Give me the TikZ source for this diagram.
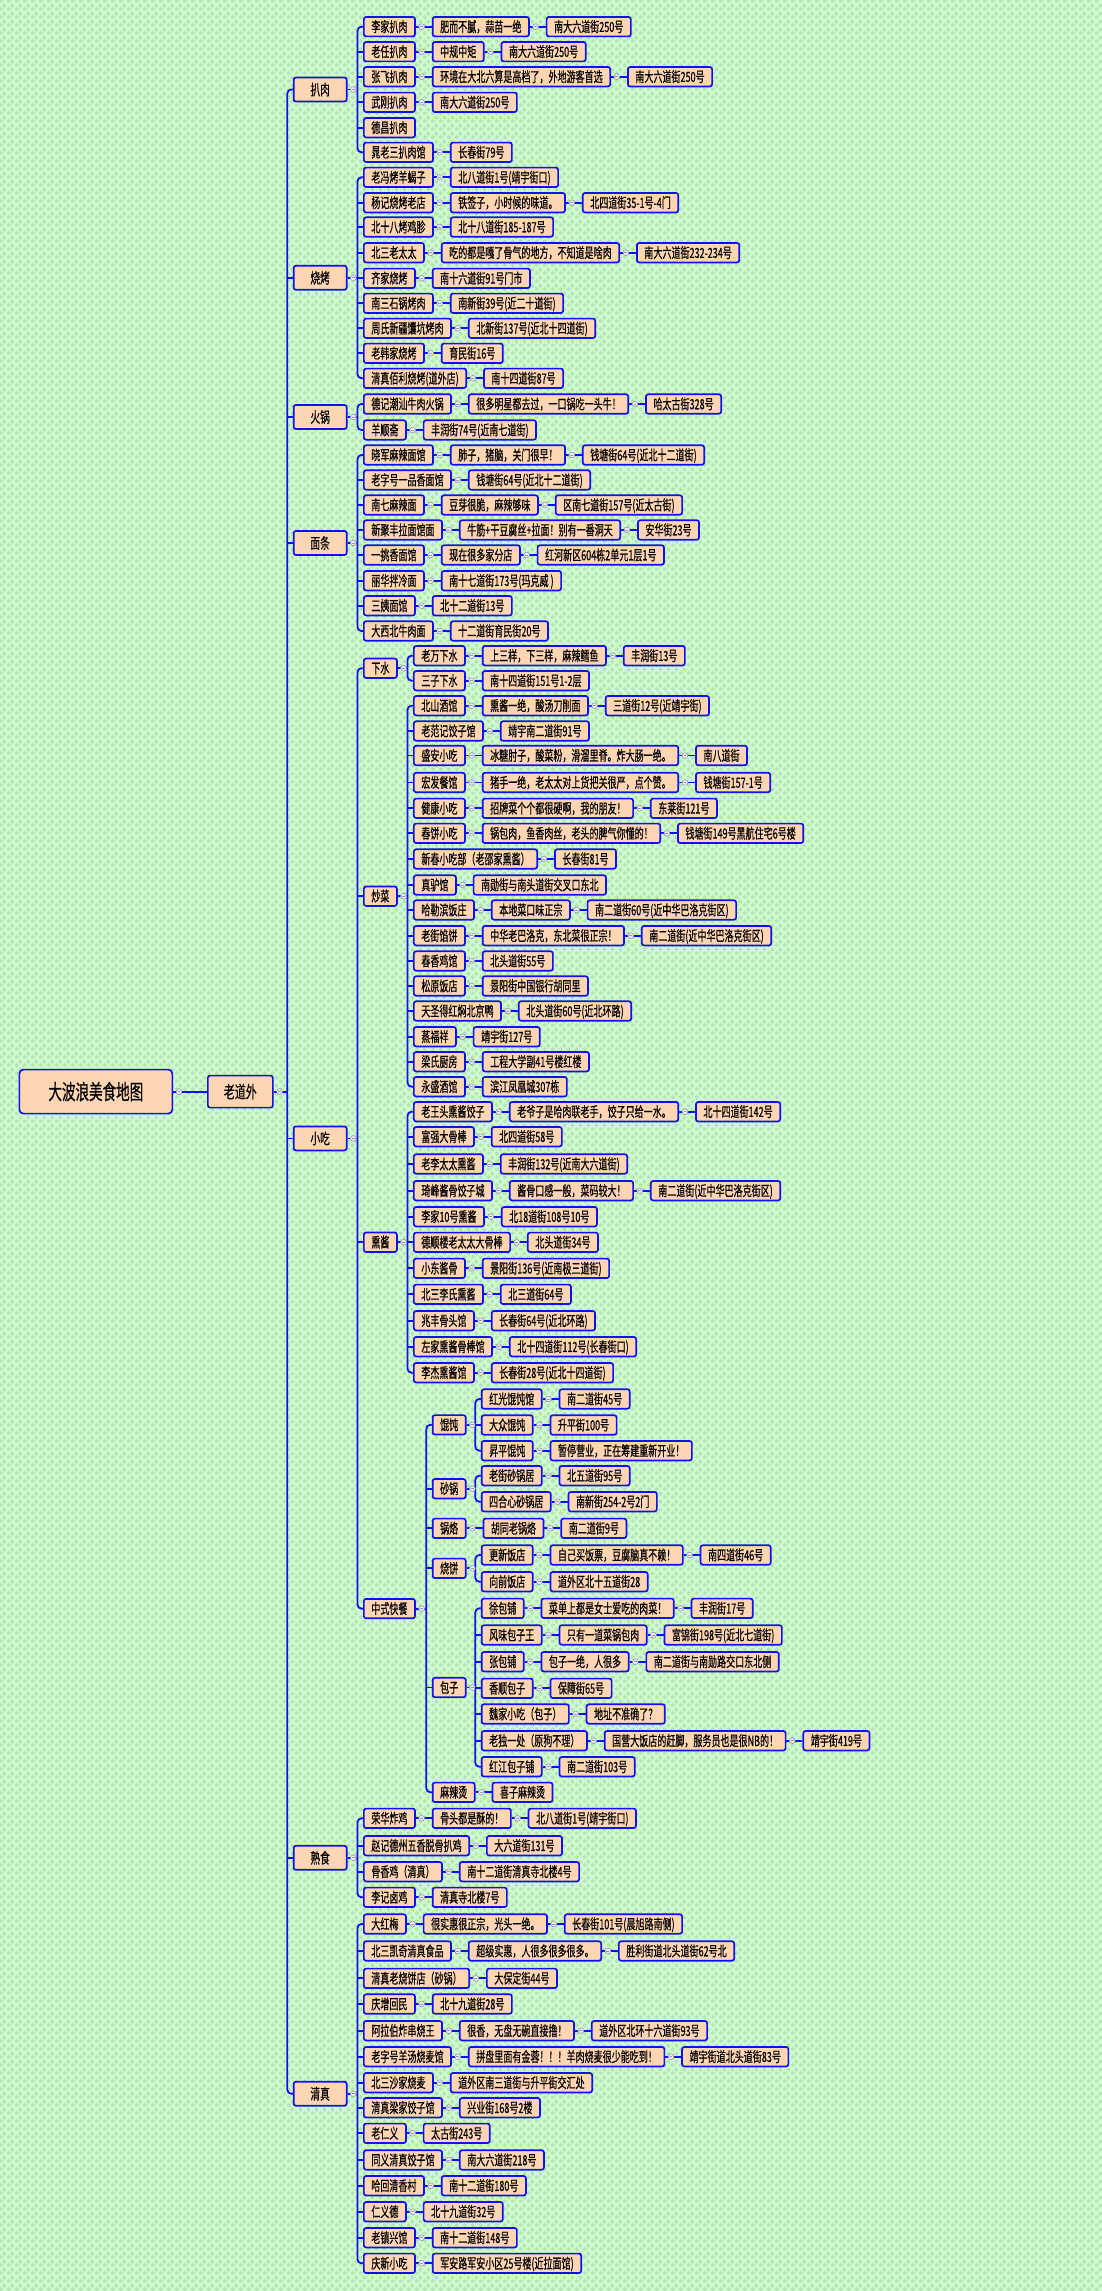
\documentclass[tikz,border=0pt]{standalone}
\usepackage{fontspec}
\setmainfont{Noto Sans CJK SC}[FakeStretch=0.645,FakeBold=0.5]
\usetikzlibrary{positioning,calc,patterns.meta}
\definecolor{mmblue}{RGB}{16,16,240}
\definecolor{mmpeach}{RGB}{255,214,180}
\definecolor{bggreen}{RGB}{206,250,206}
\definecolor{dotgreen}{RGB}{160,212,160}
\definecolor{btnfill}{RGB}{236,236,244}
\definecolor{btnedge}{RGB}{150,150,175}
\tikzdeclarepattern{name=bgdots, type=uncolored,
  bounding box={(0pt,0pt) and (8pt,8pt)}, tile size={(8pt,8pt)},
  code={\draw[line width=0.6pt] (2pt,2pt) circle (1.6pt) (6pt,6pt) circle (1.6pt);}}
\tikzset{
  leaf/.style={draw=mmblue, line width=1.7pt, fill=mmpeach, rounded corners=2.2pt,
    anchor=west, inner xsep=7.5pt, inner ysep=0pt, minimum height=19.4pt,
    text height=10.5pt, text depth=0pt, font=\fontsize{14pt}{14pt}\selectfont},
  lev2/.style={leaf, minimum width=53pt, minimum height=24pt,
    text height=11.4pt, font=\fontsize{15pt}{15pt}\selectfont},
  lev1/.style={leaf, minimum width=65pt, minimum height=32pt,
    text height=13pt, font=\fontsize{17pt}{17pt}\selectfont},
  rootnode/.style={leaf, minimum width=153pt, minimum height=44pt, rounded corners=4pt,
    text height=16pt, font=\fontsize{21pt}{21pt}\selectfont},
  conn/.style={draw=mmblue, line width=1.8pt},
}
\newcommand\mmbtn[1]{\filldraw[fill=btnfill,draw=btnedge,line width=0.6pt] ($(#1.east)+(5.8pt,0)$) circle (2.9pt);
  \draw[btnedge,line width=0.7pt] ($(#1.east)+(4.4pt,0)$) -- ++(2.8pt,0);}
\newcommand\mmL[4]{\node[leaf] (#1) at (#2,#3) {#4};}
\newcommand\mmnext[3]{\node[leaf,right=16pt of #1] (#2) {#3}; \draw[conn] (#1.east) -- (#2.west); \mmbtn{#1}}
\newcommand\mmtree[3]{\draw[conn,rounded corners=4pt] (#2.west) -- ++(-5.5pt,0) |- (#3.west);
  \draw[conn] (#1.east) -- ($(#1.east -| #2.west)+(-5.5pt,0)$); \mmbtn{#1}}
\newcommand\mmtick[1]{\draw[conn] (#1.west) -- ++(-5.5pt,0);}
\begin{document}
\begin{tikzpicture}[x=1pt,y=-1pt]
\useasboundingbox (0,0) rectangle (1102,2291);
\fill[bggreen] (0,0) rectangle (1102,2291);
\fill[pattern=bgdots,pattern color=dotgreen] (0,0) rectangle (1102,2291);

% root and level 1
\node[rootnode] (root) at (18.5,1091.6) {大波浪美食地图};
\node[lev1] (ldw) at (207,1091.6) {老道外};
\draw[conn] (root.east) -- (ldw.west); \mmbtn{root}

% level 2
\node[lev2] (bar) at (292.8,89.5) {扒肉};
\node[lev2] (sk) at (292.8,277.8) {烧烤};
\node[lev2] (hg) at (292.8,417) {火锅};
\node[lev2] (mt) at (292.8,543) {面条};
\node[lev2] (xc) at (292.8,1138.4) {小吃};
\node[lev2] (ss) at (292.8,1857.8) {熟食};
\node[lev2] (qz) at (292.8,2093.7) {清真};
\mmtree{ldw}{bar}{qz}
\foreach \n in {sk,hg,mt,xc,ss} {\mmtick{\n}}

% 扒肉
\mmL{a1}{363}{26.7}{李家扒肉} \mmnext{a1}{a1b}{肥而不腻，蒜苗一绝} \mmnext{a1b}{a1c}{南大六道街250号}
\mmL{a2}{363}{51.7}{老任扒肉} \mmnext{a2}{a2b}{中规中矩} \mmnext{a2b}{a2c}{南大六道街250号}
\mmL{a3}{363}{76.7}{张飞扒肉} \mmnext{a3}{a3b}{环境在大北六算是高档了，外地游客首选} \mmnext{a3b}{a3c}{南大六道街250号}
\mmL{a4}{363}{102.3}{武刚扒肉} \mmnext{a4}{a4b}{南大六道街250号}
\mmL{a5}{363}{127.7}{德昌扒肉}
\mmL{a6}{363}{152.3}{晁老三扒肉馆} \mmnext{a6}{a6b}{长春街79号}
\mmtree{bar}{a1}{a6}
\foreach \n in {a2,a3,a4,a5} {\mmtick{\n}}

% 烧烤
\mmL{b1}{363}{177.3}{老冯烤羊蝎子} \mmnext{b1}{b1b}{北八道街1号(靖宇街口)}
\mmL{b2}{363}{202.7}{杨记烧烤老店} \mmnext{b2}{b2b}{铁签子，小时候的味道。} \mmnext{b2b}{b2c}{北四道街35-1号-4门}
\mmL{b3}{363}{227}{北十八烤鸡胗} \mmnext{b3}{b3b}{北十八道街185-187号}
\mmL{b4}{363}{252.7}{北三老太太} \mmnext{b4}{b4b}{吃的都是嘎了骨气的地方，不知道是啥肉} \mmnext{b4b}{b4c}{南大六道街232-234号}
\mmL{b5}{363}{278.3}{齐家烧烤} \mmnext{b5}{b5b}{南十六道街91号门市}
\mmL{b6}{363}{303.3}{南三石锅烤肉} \mmnext{b6}{b6b}{南新街39号(近二十道街)}
\mmL{b7}{363}{328.3}{周氏新疆馕坑烤肉} \mmnext{b7}{b7b}{北新街137号(近北十四道街)}
\mmL{b8}{363}{353.3}{老韩家烧烤} \mmnext{b8}{b8b}{育民街16号}
\mmL{b9}{363}{378.3}{清真佰利烧烤(道外店)} \mmnext{b9}{b9b}{南十四道街87号}
\mmtree{sk}{b1}{b9}
\foreach \n in {b2,b3,b4,b5,b6,b7,b8} {\mmtick{\n}}

% 火锅
\mmL{c1}{363}{404}{德记潮汕牛肉火锅} \mmnext{c1}{c1b}{很多明星都去过，一口锅吃一头牛！} \mmnext{c1b}{c1c}{哈太古街328号}
\mmL{c2}{363}{430}{羊顺斋} \mmnext{c2}{c2b}{丰润街74号(近南七道街)}
\mmtree{hg}{c1}{c2}

% 面条
\mmL{d1}{363}{455}{晓军麻辣面馆} \mmnext{d1}{d1b}{肺子，猪脑，关门很早！} \mmnext{d1b}{d1c}{钱塘街64号(近北十二道街)}
\mmL{d2}{363}{480}{老字号一品香面馆} \mmnext{d2}{d2b}{钱塘街64号(近北十二道街)}
\mmL{d3}{363}{505}{南七麻辣面} \mmnext{d3}{d3b}{豆芽很脆，麻辣够味} \mmnext{d3b}{d3c}{区南七道街157号(近太古街)}
\mmL{d4}{363}{530}{新聚丰拉面馆面} \mmnext{d4}{d4b}{牛筋+干豆腐丝+拉面！别有一番洞天} \mmnext{d4b}{d4c}{安华街23号}
\mmL{d5}{363}{555}{一挑香面馆} \mmnext{d5}{d5b}{现在很多家分店} \mmnext{d5b}{d5c}{红河新区604栋2单元1层1号}
\mmL{d6}{363}{580.7}{丽华拌冷面} \mmnext{d6}{d6b}{南十七道街173号(玛克威 )}
\mmL{d7}{363}{605.7}{三姨面馆} \mmnext{d7}{d7b}{北十二道街13号}
\mmL{d8}{363}{631}{大西北牛肉面} \mmnext{d8}{d8b}{十二道街育民街20号}
\mmtree{mt}{d1}{d8}
\foreach \n in {d2,d3,d4,d5,d6,d7} {\mmtick{\n}}

% 小吃
\mmL{e1}{363}{668.2}{下水}
\mmL{e2}{363}{896.2}{炒菜}
\mmL{e3}{363}{1242.2}{熏酱}
\mmL{e4}{363}{1608.6}{中式快餐}
\mmtree{xc}{e1}{e4}
\foreach \n in {e2,e3} {\mmtick{\n}}

% 下水
\mmL{e1a}{413}{655.7}{老万下水} \mmnext{e1a}{e1ab}{上三样，下三样，麻辣鳕鱼} \mmnext{e1ab}{e1ac}{丰润街13号}
\mmL{e1b}{413}{680.7}{三子下水} \mmnext{e1b}{e1bb}{南十四道街151号1-2层}
\mmtree{e1}{e1a}{e1b}

% 炒菜
\mmL{f1}{413}{705.7}{北山酒馆} \mmnext{f1}{f1b}{熏酱一绝，酸汤刀削面} \mmnext{f1b}{f1c}{三道街12号(近靖宇街)}
\mmL{f2}{413}{731}{老范记饺子馆} \mmnext{f2}{f2b}{靖宇南二道街91号}
\mmL{f3}{413}{755.5}{盛安小吃} \mmnext{f3}{f3b}{冰糖肘子，酸菜粉，滑溜里脊。炸大肠一绝。} \mmnext{f3b}{f3c}{南八道街}
\mmL{f4}{413}{782.5}{宏发餐馆} \mmnext{f4}{f4b}{猪手一绝，老太太对上货把关很严，点个赞。} \mmnext{f4b}{f4c}{钱塘街157-1号}
\mmL{f5}{413}{808.3}{健康小吃} \mmnext{f5}{f5b}{招牌菜个个都很硬啊，我的朋友！} \mmnext{f5b}{f5c}{东莱街121号}
\mmL{f6}{413}{833.3}{春饼小吃} \mmnext{f6}{f6b}{锅包肉，鱼香肉丝，老头的脾气你懂的！} \mmnext{f6b}{f6c}{钱塘街149号黑航住宅6号楼}
\mmL{f7}{413}{859}{新春小吃部（老邵家熏酱）} \mmnext{f7}{f7b}{长春街81号}
\mmL{f8}{413}{885}{真驴馆} \mmnext{f8}{f8b}{南勋街与南头道街交叉口东北}
\mmL{f9}{413}{910}{哈勒滨饭庄} \mmnext{f9}{f9b}{本地菜口味正宗} \mmnext{f9b}{f9c}{南二道街60号(近中华巴洛克街区)}
\mmL{f10}{413}{935.7}{老街馅饼} \mmnext{f10}{f10b}{中华老巴洛克，东北菜很正宗！} \mmnext{f10b}{f10c}{南二道街(近中华巴洛克街区)}
\mmL{f11}{413}{961}{春香鸡馆} \mmnext{f11}{f11b}{北头道街55号}
\mmL{f12}{413}{986}{松原饭店} \mmnext{f12}{f12b}{景阳街中国银行胡同里}
\mmL{f13}{413}{1011}{天圣得红焖北京鸭} \mmnext{f13}{f13b}{北头道街60号(近北环路)}
\mmL{f14}{413}{1036.7}{蒸福祥} \mmnext{f14}{f14b}{靖宇街127号}
\mmL{f15}{413}{1061.7}{梁氏厨房} \mmnext{f15}{f15b}{工程大学副41号楼红楼}
\mmL{f16}{413}{1086.7}{永盛酒馆} \mmnext{f16}{f16b}{滨江凤凰城307栋}
\mmtree{e2}{f1}{f16}
\foreach \n in {f2,f3,f4,f5,f6,f7,f8,f9,f10,f11,f12,f13,f14,f15} {\mmtick{\n}}

% 熏酱
\mmL{g1}{413}{1111.7}{老王头熏酱饺子} \mmnext{g1}{g1b}{老爷子是哈肉联老手，饺子只给一水。} \mmnext{g1b}{g1c}{北十四道街142号}
\mmL{g2}{413}{1136.7}{富强大骨棒} \mmnext{g2}{g2b}{北四道街58号}
\mmL{g3}{413}{1164}{老李太太熏酱} \mmnext{g3}{g3b}{丰润街132号(近南大六道街)}
\mmL{g4}{413}{1190.7}{琦峰酱骨饺子城} \mmnext{g4}{g4b}{酱骨口感一般，菜码较大！} \mmnext{g4b}{g4c}{南二道街(近中华巴洛克街区)}
\mmL{g5}{413}{1216.7}{李家10号熏酱} \mmnext{g5}{g5b}{北18道街108号10号}
\mmL{g6}{413}{1242.3}{德顺楼老太太大骨棒} \mmnext{g6}{g6b}{北头道街34号}
\mmL{g7}{413}{1268.3}{小东酱骨} \mmnext{g7}{g7b}{景阳街136号(近南极三道街)}
\mmL{g8}{413}{1294.3}{北三李氏熏酱} \mmnext{g8}{g8b}{北三道街64号}
\mmL{g9}{413}{1320.7}{兆丰骨头馆} \mmnext{g9}{g9b}{长春街64号(近北环路)}
\mmL{g10}{413}{1346.7}{左家熏酱骨棒馆} \mmnext{g10}{g10b}{北十四道街112号(长春街口)}
\mmL{g11}{413}{1372.7}{李杰熏酱馆} \mmnext{g11}{g11b}{长春街28号(近北十四道街)}
\mmtree{e3}{g1}{g11}
\foreach \n in {g2,g3,g4,g5,g6,g7,g8,g9,g10} {\mmtick{\n}}

% 中式快餐
\mmL{h1}{431.8}{1424.8}{馄饨}
\mmL{h2}{431.8}{1488.7}{砂锅}
\mmL{h3}{431.8}{1528.3}{锅烙}
\mmL{h4}{431.8}{1568.3}{烧饼}
\mmL{h5}{431.8}{1687.5}{包子}
\mmL{h6}{431.8}{1792.3}{麻辣烫}
\mmtree{e4}{h1}{h6}
\foreach \n in {h2,h3,h4,h5} {\mmtick{\n}}

\mmL{h1a}{480.8}{1399}{红光馄饨馆} \mmnext{h1a}{h1ab}{南二道街45号}
\mmL{h1b}{480.8}{1425}{大众馄饨} \mmnext{h1b}{h1bb}{升平街100号}
\mmL{h1c}{480.8}{1450.7}{昇平馄饨} \mmnext{h1c}{h1cb}{暂停营业，正在筹建重新开业！}
\mmtree{h1}{h1a}{h1c}
\mmtick{h1b}

\mmL{h2a}{480.8}{1475.7}{老街砂锅居} \mmnext{h2a}{h2ab}{北五道街95号}
\mmL{h2b}{480.8}{1501.7}{四合心砂锅居} \mmnext{h2b}{h2bb}{南新街254-2号2门}
\mmtree{h2}{h2a}{h2b}

\mmnext{h3}{h3a}{胡同老锅烙} \mmnext{h3a}{h3ab}{南二道街9号}

\mmL{h4a}{480.8}{1555}{更新饭店} \mmnext{h4a}{h4ab}{自己买饭票，豆腐脑真不赖！} \mmnext{h4ab}{h4ac}{南四道街46号}
\mmL{h4b}{480.8}{1581.7}{向前饭店} \mmnext{h4b}{h4bb}{道外区北十五道街28}
\mmtree{h4}{h4a}{h4b}

\mmL{h5a}{480.8}{1608.3}{徐包铺} \mmnext{h5a}{h5ab}{菜单上都是女士爱吃的肉菜！} \mmnext{h5ab}{h5ac}{丰润街17号}
\mmL{h5b}{480.8}{1635}{风味包子王} \mmnext{h5b}{h5bb}{只有一道菜锅包肉} \mmnext{h5bb}{h5bc}{富锦街198号(近北七道街)}
\mmL{h5c}{480.8}{1661.7}{张包铺} \mmnext{h5c}{h5cb}{包子一绝，人很多} \mmnext{h5cb}{h5cc}{南二道街与南勋路交口东北侧}
\mmL{h5d}{480.8}{1688.3}{香顺包子} \mmnext{h5d}{h5db}{保障街65号}
\mmL{h5e}{480.8}{1714}{魏家小吃（包子）} \mmnext{h5e}{h5eb}{地址不准确了？}
\mmL{h5f}{480.8}{1740.7}{老独一处（原狗不理）} \mmnext{h5f}{h5fb}{国营大饭店的赶脚，服务员也是很NB的！} \mmnext{h5fb}{h5fc}{靖宇街419号}
\mmL{h5g}{480.8}{1766.7}{红江包子铺} \mmnext{h5g}{h5gb}{南二道街103号}
\mmtree{h5}{h5a}{h5g}
\foreach \n in {h5b,h5c,h5d,h5e,h5f} {\mmtick{\n}}

\mmnext{h6}{h6a}{喜子麻辣烫}

% 熟食
\mmL{s1}{363}{1818.3}{荣华炸鸡} \mmnext{s1}{s1b}{骨头都是酥的！} \mmnext{s1b}{s1c}{北八道街1号(靖宇街口)}
\mmL{s2}{363}{1845.7}{赵记德州五香脱骨扒鸡} \mmnext{s2}{s2b}{大六道街131号}
\mmL{s3}{363}{1871.7}{骨香鸡（清真）} \mmnext{s3}{s3b}{南十二道街清真寺北楼4号}
\mmL{s4}{363}{1897.3}{李记卤鸡} \mmnext{s4}{s4b}{清真寺北楼7号}
\mmtree{ss}{s1}{s4}
\foreach \n in {s2,s3} {\mmtick{\n}}

% 清真
\mmL{q1}{363}{1924}{大红梅} \mmnext{q1}{q1b}{很实惠很正宗，光头一绝。} \mmnext{q1b}{q1c}{长春街101号(晨旭路南侧)}
\mmL{q2}{363}{1951}{北三凯奇清真食品} \mmnext{q2}{q2b}{超级实惠，人很多很多很多。} \mmnext{q2b}{q2c}{胜利街道北头道街62号北}
\mmL{q3}{363}{1978.3}{清真老烧饼店（砂锅）} \mmnext{q3}{q3b}{大保定街44号}
\mmL{q4}{363}{2004}{庆增回民} \mmnext{q4}{q4b}{北十九道街28号}
\mmL{q5}{363}{2030.7}{阿拉伯炸串烧王} \mmnext{q5}{q5b}{很香，无盘无碗直接撸！} \mmnext{q5b}{q5c}{道外区北环十六道街93号}
\mmL{q6}{363}{2056.7}{老字号羊汤烧麦馆} \mmnext{q6}{q6b}{拼盘里面有金蓉！！！羊肉烧麦很少能吃到！} \mmnext{q6b}{q6c}{靖宇街道北头道街83号}
\mmL{q7}{363}{2082.7}{北三沙家烧麦} \mmnext{q7}{q7b}{道外区南三道街与升平街交汇处}
\mmL{q8}{363}{2107.7}{清真梁家饺子馆} \mmnext{q8}{q8b}{兴业街168号2楼}
\mmL{q9}{363}{2133.3}{老仁义} \mmnext{q9}{q9b}{太古街243号}
\mmL{q10}{363}{2160}{同义清真饺子馆} \mmnext{q10}{q10b}{南大六道街218号}
\mmL{q11}{363}{2185.7}{哈回清香村} \mmnext{q11}{q11b}{南十二道街180号}
\mmL{q12}{363}{2211.7}{仁义德} \mmnext{q12}{q12b}{北十九道街32号}
\mmL{q13}{363}{2237.7}{老镇兴馆} \mmnext{q13}{q13b}{南十二道街148号}
\mmL{q14}{363}{2263.3}{庆新小吃} \mmnext{q14}{q14b}{军安路军安小区25号楼(近拉面馆)}
\mmtree{qz}{q1}{q14}
\foreach \n in {q2,q3,q4,q5,q6,q7,q8,q9,q10,q11,q12,q13} {\mmtick{\n}}
\end{tikzpicture}
\end{document}
